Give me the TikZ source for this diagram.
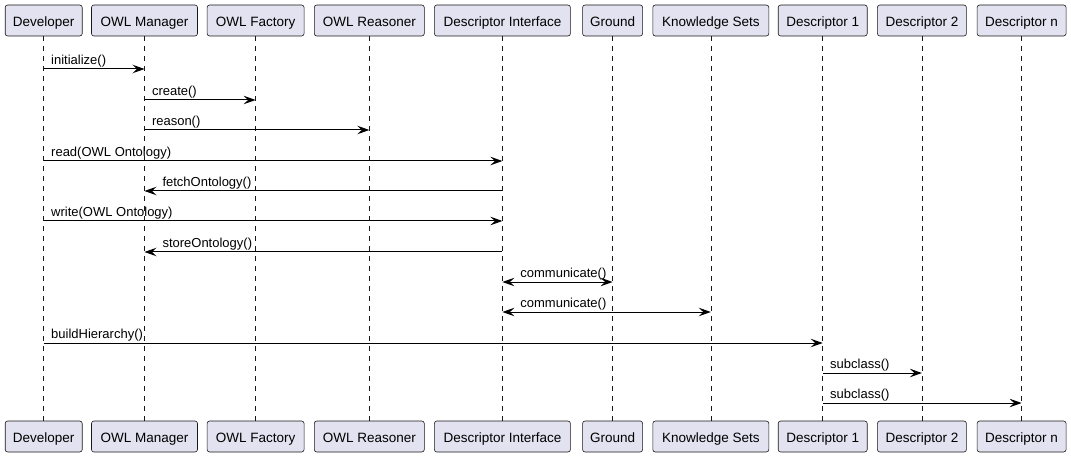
\documentclass[tikz,border=0pt]{standalone}
\usepackage{fontspec}
\setmainfont{Liberation Sans}
\usetikzlibrary{arrows.meta}
\definecolor{boxfill}{HTML}{E2E2F0}
\definecolor{boxline}{HTML}{181818}
\tikzset{
	actor/.style={draw=boxline, fill=boxfill, line width=0.6pt, rounded corners=2.5pt, minimum height=31pt, inner sep=0pt, text height=12.4pt, text depth=0pt, font=\fontsize{13.5}{15}\selectfont},
	life/.style={draw=boxline, line width=0.5pt, dash pattern=on 5pt off 5pt},
	msg/.style={draw=black, line width=1pt, -{Stealth[length=12pt,width=8.5pt,inset=4.5pt]}},
	twoway/.style={draw=black, line width=1pt, {Stealth[length=12pt,width=8.5pt,inset=4.5pt]}-{Stealth[length=12pt,width=8.5pt,inset=4.5pt]}},
	lbl/.style={inner sep=0pt, anchor=base west, yshift=4.3pt, font=\fontsize{13}{15}\selectfont}
}

\begin{document}
\begin{tikzpicture}[x=1pt, y=-1pt]
			%%%%% START %%%%%
			\useasboundingbox (0, 0) rectangle (1071, 457);
			
			\node[actor, minimum width=77pt] (dev) at (43.7, 20.5) {Developer};
			\node[actor, minimum width=106pt] (mgr) at (144.5, 20.5) {OWL Manager};
			\node[actor, minimum width=97pt] (fac) at (255.6, 20.5) {OWL Factory};
			\node[actor, minimum width=110pt] (rsn) at (369.3, 20.5) {OWL Reasoner};
			\node[actor, minimum width=136pt] (dif) at (502.4, 20.5) {Descriptor Interface};
			\node[actor, minimum width=60pt] (gnd) at (612.6, 20.5) {Ground};
			\node[actor, minimum width=116pt] (ks) at (710.8, 20.5) {Knowledge Sets};
			\node[actor, minimum width=89pt] (dA) at (822.7, 20.5) {Descriptor 1};
			\node[actor, minimum width=89pt] (dB) at (921.9, 20.5) {Descriptor 2};
			\node[actor, minimum width=89pt] (dN) at (1021.6, 20.5) {Descriptor n};
			
			\node[actor, minimum width=77pt] (devB) at (43.7, 436.5) {Developer};
			\node[actor, minimum width=106pt] (mgrB) at (144.5, 436.5) {OWL Manager};
			\node[actor, minimum width=97pt] (facB) at (255.6, 436.5) {OWL Factory};
			\node[actor, minimum width=110pt] (rsnB) at (369.3, 436.5) {OWL Reasoner};
			\node[actor, minimum width=136pt] (difB) at (502.4, 436.5) {Descriptor Interface};
			\node[actor, minimum width=60pt] (gndB) at (612.6, 436.5) {Ground};
			\node[actor, minimum width=116pt] (ksB) at (710.8, 436.5) {Knowledge Sets};
			\node[actor, minimum width=89pt] (dAB) at (822.7, 436.5) {Descriptor 1};
			\node[actor, minimum width=89pt] (dBB) at (921.9, 436.5) {Descriptor 2};
			\node[actor, minimum width=89pt] (dNB) at (1021.6, 436.5) {Descriptor n};
			
			\draw[life] (dev.south) -- (devB.north);
			\draw[life] (mgr.south) -- (mgrB.north);
			\draw[life] (fac.south) -- (facB.north);
			\draw[life] (rsn.south) -- (rsnB.north);
			\draw[life] (dif.south) -- (difB.north);
			\draw[life] (gnd.south) -- (gndB.north);
			\draw[life] (ks.south) -- (ksB.north);
			\draw[life] (dA.south) -- (dAB.north);
			\draw[life] (dB.south) -- (dBB.north);
			\draw[life] (dN.south) -- (dNB.north);
			
			\draw[msg] (dev |- 0,69) -- (mgr |- 0,69) node[lbl, pos=0, xshift=7pt] (l1) {initialize()};
			\draw[msg] (mgr |- 0,100) -- (fac |- 0,100) node[lbl, pos=0, xshift=7pt] (l2) {create()};
			\draw[msg] (mgr |- 0,130) -- (rsn |- 0,130) node[lbl, pos=0, xshift=7pt] (l3) {reason()};
			\draw[msg] (dev |- 0,161) -- (dif |- 0,161) node[lbl, pos=0, xshift=7pt] (l4) {read(OWL Ontology)};
			\draw[msg] (dif |- 0,191) -- (mgr |- 0,191) node[lbl, pos=1, xshift=17.5pt] (l5) {fetchOntology()};
			\draw[msg] (dev |- 0,221) -- (dif |- 0,221) node[lbl, pos=0, xshift=7pt] (l6) {write(OWL Ontology)};
			\draw[msg] (dif |- 0,252) -- (mgr |- 0,252) node[lbl, pos=1, xshift=17.5pt] (l7) {storeOntology()};
			\draw[twoway] (dif |- 0,282) -- (gnd |- 0,282) node[lbl, pos=0, xshift=17.5pt] (l8) {communicate()};
			\draw[twoway] (dif |- 0,312) -- (ks |- 0,312) node[lbl, pos=0, xshift=17.5pt] (l9) {communicate()};
			\draw[msg] (dev |- 0,343) -- (dA |- 0,343) node[lbl, pos=0, xshift=7pt] (l10) {buildHierarchy()};
			\draw[msg] (dA |- 0,373) -- (dB |- 0,373) node[lbl, pos=0, xshift=7pt] (l11) {subclass()};
			\draw[msg] (dA |- 0,403) -- (dN |- 0,403) node[lbl, pos=0, xshift=7pt] (l12) {subclass()};
			
			%%%%% END %%%%%
\end{tikzpicture}
\end{document}
